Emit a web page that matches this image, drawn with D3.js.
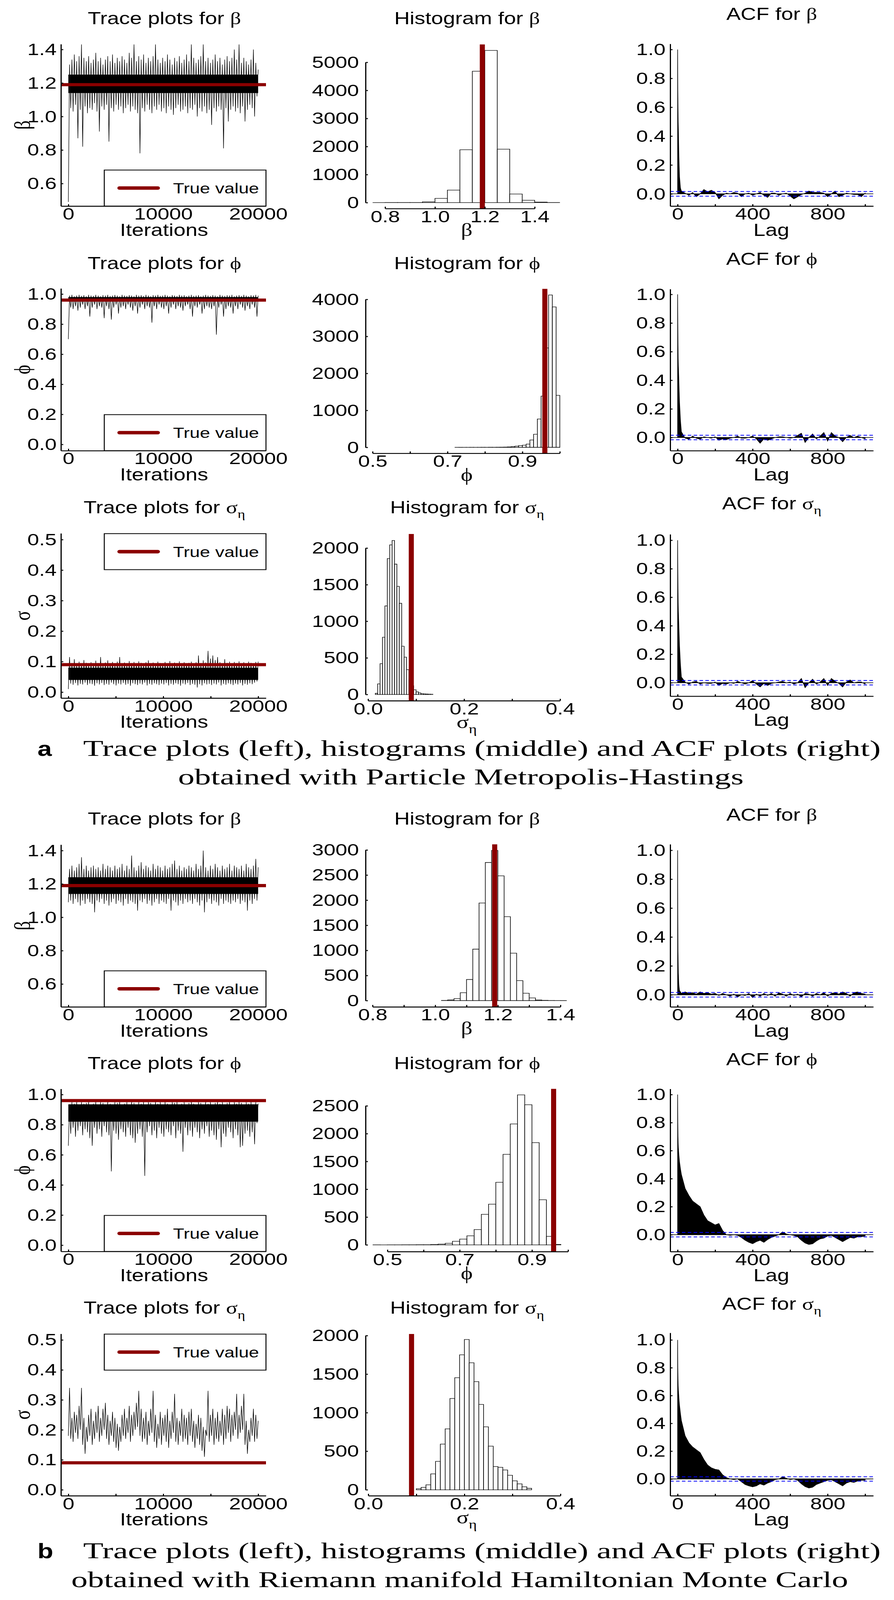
<!DOCTYPE html>
<html>
<head>
<meta charset="utf-8">
<script src="https://cdn.jsdelivr.net/npm/d3@7"></script>
<style>html,body{margin:0;background:#fff;overflow:hidden}</style>
</head>
<body>
<script>
// ---------- data ----------
// trace plots: low / high excursion of the chain in each 250-iteration block
const traceBetaA_lo=[0.49,1.05,1.03,1.07,0.87,1.04,0.82,1.06,1.02,1.05, 1.04,1.08,1.03,0.91,1.06,1.04,1.07,0.85,1.05,1.03,
 1.07,1.04,1.06,1.02,1.05,1.07,1.03,1.06,1.04,1.02, 0.78,1.05,1.03,1.07,1.04,1.02,1.06,1.04,1.07,1.03,
 1.05,1.02,1.06,1.04,1.01,1.05,1.07,1.03,1.04,1.06, 1.02,1.05,1.04,1.07,1.00,1.05,1.03,1.06,1.02,1.04,
 0.95,1.05,1.03,1.06,1.04,0.81,1.05,0.97,1.04,1.06, 1.03,1.05,1.02,1.06,0.97,1.04,1.07,1.05,1.00,1.12];
const traceBetaA_hi=[1.31,1.34,1.37,1.33,1.36,1.43,1.35,1.33,1.36,1.32, 1.34,1.38,1.33,1.35,1.31,1.34,1.36,1.33,1.37,1.32,
 1.35,1.33,1.36,1.34,1.32,1.38,1.35,1.43,1.33,1.36, 1.34,1.37,1.32,1.35,1.33,1.36,1.43,1.34,1.32,1.35,
 1.33,1.37,1.34,1.31,1.35,1.33,1.36,1.32,1.34,1.37, 1.33,1.43,1.35,1.32,1.34,1.36,1.43,1.33,1.35,1.32,
 1.34,1.37,1.33,1.35,1.31,1.34,1.36,1.33,1.35,1.40, 1.34,1.43,1.32,1.35,1.33,1.31,1.34,1.40,1.32,1.28];
const traceBetaA_core=[1.14,1.25];

const tracePhiA_lo=[0.70,0.91,0.90,0.92,0.89,0.91,0.93,0.90,0.92,0.85, 0.91,0.93,0.90,0.92,0.91,0.84,0.92,0.90,0.83,0.91,
 0.93,0.87,0.91,0.92,0.90,0.93,0.91,0.89,0.92,0.87, 0.91,0.93,0.90,0.92,0.91,0.81,0.92,0.90,0.93,0.91,
 0.90,0.92,0.87,0.91,0.93,0.90,0.92,0.91,0.89,0.92, 0.93,0.90,0.85,0.92,0.91,0.93,0.87,0.90,0.92,0.91,
 0.90,0.92,0.73,0.91,0.93,0.85,0.90,0.92,0.91,0.87, 0.92,0.90,0.93,0.91,0.89,0.92,0.90,0.93,0.91,0.85];
const tracePhiA_hi=[0.99,0.995,0.985,0.99,0.995,0.988,0.992,0.985,0.995,0.99, 0.988,0.995,0.99,0.985,0.993,0.99,0.995,0.987,0.99,0.994,
 0.99,0.985,0.995,0.99,0.988,0.993,0.99,0.985,0.995,0.99, 0.992,0.987,0.995,0.99,0.985,0.993,0.99,0.995,0.988,0.99,
 0.995,0.99,0.985,0.993,0.99,0.987,0.995,0.99,0.992,0.985, 0.99,0.995,0.988,0.99,0.993,0.985,0.99,0.995,0.99,0.987,
 0.993,0.99,0.985,0.995,0.99,0.988,0.992,0.99,0.995,0.985, 0.99,0.993,0.987,0.995,0.99,0.985,0.992,0.99,0.995,0.99];
const tracePhiA_core=[0.95,0.98];

const traceSigA_lo=[0.010,0.028,0.024,0.030,0.022,0.027,0.025,0.031,0.023,0.028, 0.026,0.021,0.029,0.025,0.030,0.023,0.027,0.024,0.031,0.026,
 0.022,0.028,0.025,0.030,0.024,0.027,0.021,0.029,0.026,0.023, 0.028,0.025,0.031,0.022,0.027,0.024,0.029,0.026,0.023,0.028,
 0.025,0.030,0.022,0.027,0.024,0.029,0.026,0.021,0.028,0.025, 0.030,0.023,0.027,0.024,0.015,0.026,0.022,0.029,0.025,0.027,
 0.023,0.028,0.025,0.031,0.022,0.027,0.024,0.029,0.026,0.023, 0.028,0.025,0.030,0.022,0.027,0.024,0.029,0.026,0.031,0.035];
const traceSigA_hi=[0.115,0.095,0.108,0.092,0.100,0.094,0.105,0.096,0.090,0.098, 0.093,0.103,0.095,0.115,0.091,0.097,0.104,0.094,0.099,0.092,
 0.100,0.115,0.094,0.097,0.092,0.102,0.095,0.099,0.093,0.101, 0.096,0.092,0.098,0.104,0.094,0.097,0.091,0.100,0.095,0.093,
 0.099,0.094,0.102,0.092,0.097,0.095,0.101,0.093,0.098,0.094, 0.096,0.100,0.093,0.098,0.120,0.095,0.104,0.097,0.135,0.110,
 0.120,0.105,0.115,0.098,0.094,0.108,0.096,0.100,0.093,0.099, 0.095,0.101,0.094,0.098,0.092,0.100,0.096,0.094,0.099,0.100];
const traceSigA_core=[0.04,0.08];

const traceBetaB_lo=[1.09,1.10,1.08,1.11,1.09,1.07,1.10,1.08,1.11,1.09, 1.08,1.03,1.10,1.09,1.11,1.08,1.10,1.07,1.09,1.11,
 1.08,1.10,1.09,1.07,1.11,1.08,1.10,1.09,1.08,1.04, 1.10,1.09,1.11,1.08,1.10,1.07,1.09,1.11,1.08,1.10,
 1.09,1.08,1.11,1.04,1.10,1.09,1.07,1.10,1.08,1.11, 1.09,1.10,1.08,1.11,1.09,1.07,1.10,1.03,1.09,1.11,
 1.08,1.10,1.09,1.07,1.11,1.08,1.10,1.09,1.08,1.10, 1.09,1.11,1.08,1.10,1.09,1.04,1.10,1.08,1.11,1.10];
const traceBetaB_hi=[1.29,1.31,1.28,1.30,1.32,1.36,1.29,1.31,1.28,1.30, 1.31,1.29,1.30,1.28,1.32,1.29,1.31,1.30,1.28,1.31,
 1.29,1.30,1.32,1.28,1.31,1.29,1.37,1.30,1.28,1.31, 1.33,1.29,1.31,1.30,1.28,1.32,1.29,1.31,1.30,1.28,
 1.31,1.29,1.30,1.32,1.34,1.29,1.31,1.28,1.30,1.29, 1.31,1.30,1.28,1.32,1.29,1.31,1.40,1.30,1.28,1.31,
 1.29,1.32,1.30,1.28,1.31,1.29,1.30,1.32,1.28,1.31, 1.30,1.29,1.31,1.28,1.32,1.30,1.29,1.31,1.35,1.30];
const traceBetaB_core=[1.14,1.24];

const tracePhiB_lo=[0.66,0.74,0.78,0.72,0.76,0.79,0.73,0.77,0.75,0.71, 0.66,0.78,0.74,0.77,0.72,0.79,0.75,0.73,0.49,0.76,
 0.74,0.70,0.77,0.75,0.72,0.78,0.73,0.71,0.68,0.74, 0.77,0.72,0.46,0.75,0.79,0.73,0.76,0.71,0.78,0.74,
 0.72,0.77,0.75,0.73,0.79,0.71,0.76,0.74,0.62,0.78, 0.73,0.76,0.72,0.78,0.75,0.71,0.77,0.74,0.79,0.72,
 0.76,0.73,0.70,0.77,0.65,0.74,0.72,0.78,0.75,0.71, 0.77,0.73,0.65,0.66,0.74,0.76,0.72,0.75,0.67,0.81];
const tracePhiB_hi=[0.93,0.95,0.94,0.955,0.93,0.95,0.94,0.945,0.955,0.93, 0.94,0.955,0.93,0.95,0.945,0.935,0.955,0.94,0.93,0.95,
 0.945,0.955,0.93,0.94,0.95,0.935,0.955,0.945,0.93,0.95, 0.94,0.955,0.935,0.95,0.945,0.93,0.955,0.94,0.95,0.935,
 0.955,0.94,0.93,0.95,0.945,0.955,0.935,0.94,0.95,0.93, 0.945,0.955,0.94,0.93,0.95,0.945,0.935,0.955,0.94,0.95,
 0.93,0.945,0.955,0.94,0.95,0.935,0.945,0.955,0.93,0.95, 0.94,0.955,0.945,0.93,0.95,0.94,0.955,0.935,0.95,0.94];
const tracePhiB_core=[0.82,0.935];

const traceSigB_lo=[0.18,0.17,0.16,0.19,0.17,0.20,0.15,0.12,0.16,0.18, 0.15,0.17,0.19,0.16,0.18,0.20,0.17,0.15,0.18,0.16,
 0.14,0.13,0.16,0.18,0.17,0.19,0.16,0.18,0.20,0.21, 0.18,0.16,0.17,0.15,0.18,0.19,0.16,0.14,0.17,0.15,
 0.18,0.16,0.14,0.17,0.19,0.16,0.15,0.18,0.16,0.17, 0.15,0.18,0.16,0.14,0.17,0.15,0.13,0.11,0.18,0.16,
 0.18,0.15,0.17,0.16,0.18,0.15,0.17,0.19,0.16,0.18, 0.20,0.17,0.19,0.20,0.15,0.12,0.16,0.18,0.16,0.17];
const traceSigB_hi=[0.34,0.24,0.26,0.25,0.28,0.34,0.24,0.21,0.25,0.27, 0.23,0.26,0.28,0.24,0.27,0.29,0.25,0.23,0.26,0.24,
 0.22,0.21,0.25,0.27,0.24,0.28,0.25,0.26,0.29,0.33, 0.27,0.24,0.26,0.23,0.27,0.33,0.25,0.22,0.26,0.24,
 0.25,0.27,0.23,0.26,0.32,0.24,0.23,0.27,0.25,0.24, 0.26,0.27,0.23,0.22,0.25,0.24,0.21,0.20,0.33,0.25,
 0.27,0.24,0.26,0.23,0.27,0.25,0.28,0.27,0.25,0.26, 0.32,0.25,0.28,0.32,0.23,0.20,0.24,0.27,0.25,0.23];
const traceSigB_core=null;

const trueBeta=1.19, truePhi=0.96, trueSig=0.09;

// histograms: first break, bin width, counts
const histBetaA_start=0.75, histBetaA_step=0.05;
const histBetaA=[0,3,3,3,30,150,446,1884,4682,5424,1906,307,84,20,3];
const histPhiA_start=0.72, histPhiA_step=0.01;
const histPhiA=[1,0,1,1,2,1,2,3,2,4,3,5,6,8,12,20,34,50,59,89,200,356,766,1384,2688,4119,3797,1405];
const histSigA_start=0.015, histSigA_step=0.005;
const histSigA=[15,145,421,781,1209,1857,2043,2103,1780,1476,1245,659,509,338,210,120,64,36,21,10,8,6,4,3];
const histBetaB_start=1.02, histBetaB_step=0.02;
const histBetaB=[3,15,40,156,420,1025,1944,2750,2990,2484,1672,944,397,147,53,12,5,2,1,0];
const histPhiB_start=0.46, histPhiB_step=0.02;
const histPhiB=[1,0,1,1,2,2,3,3,6,14,28,65,104,163,276,549,732,1126,1627,2173,2697,2519,1838,811,152,8];
const histSigB_start=0.10, histSigB_step=0.01;
const histSigB=[13,31,64,206,368,592,790,1184,1454,1750,1949,1647,1403,1107,816,566,301,291,257,188,116,77,39,18];

// autocorrelation functions
const acfLags=[0,1,2,3,4,6,8,10,15,20,40,60,80,100,120,140,160,180,200,220,240,260,280,300,320,340,360,380,400,
 420,440,460,480,500,520,540,560,580,600,620,640,660,680,700,720,740,760,780,800,820,840,860,880,900,920,940,960,980,1000];
const acfBetaA=[1.0,0.72,0.6,0.5,0.45,0.3,0.2,0.12,0.04,0.02,
 0.005,-0.01,0.01,-0.02,0.0,0.03,0.015,0.025,0.01,-0.035,-0.01,0.005,0.0,0.01,0.005,-0.02,0.0,0.005,-0.01,0.0,
 0.01,-0.01,-0.025,0.005,0.005,-0.01,0.0,0.005,-0.015,-0.035,-0.02,-0.005,0.005,0.02,0.01,0.01,0.01,0.005,-0.02,0.0,
 0.02,-0.02,-0.01,0.005,0.0,-0.005,-0.005,-0.02,0.005];
const acfPhiA=[1.0,0.8,0.65,0.55,0.5,0.42,0.33,0.25,0.12,0.04,
 -0.005,-0.012,0.01,-0.005,-0.012,0.005,0.0,-0.005,0.005,-0.02,-0.01,-0.015,-0.005,0.0,0.01,-0.005,-0.005,0.0,0.01,-0.01,
 -0.04,-0.01,-0.02,-0.01,0.0,0.005,0.005,0.0,-0.005,0.0,0.015,0.03,-0.035,0.0,0.025,-0.01,0.01,0.035,-0.025,0.035,
 0.01,0.0,-0.03,0.0,0.015,0.0,0.01,0.0,-0.01];
const acfSigA=[1.0,0.8,0.66,0.56,0.5,0.42,0.34,0.26,0.13,0.04,
 0.005,-0.01,0.005,0.01,-0.01,0.0,-0.005,-0.005,0.005,-0.02,-0.005,-0.01,0.0,-0.005,0.01,0.0,-0.01,0.0,0.015,-0.01,
 -0.03,-0.005,-0.02,-0.005,0.0,0.005,0.01,0.0,0.005,-0.01,0.0,0.03,-0.035,0.0,0.025,-0.01,0.005,0.03,-0.02,0.03,
 0.01,-0.005,-0.03,0.005,0.02,0.0,0.005,0.005,-0.01];
const acfBetaB=[1.0,0.55,0.3,0.22,0.15,0.08,0.05,0.03,0.02,0.01,
 0.02,0.01,0.015,0.005,0.02,0.01,0.015,0.005,0.01,-0.005,0.01,0.0,-0.01,0.005,-0.015,0.0,-0.005,0.01,-0.02,0.005,
 -0.01,0.01,-0.005,0.01,-0.01,0.015,0.005,-0.01,0.01,-0.005,0.005,-0.015,0.01,0.005,-0.01,0.01,0.0,0.015,-0.01,0.01,
 0.015,0.005,0.02,0.01,-0.01,0.015,0.02,0.01,0.005];
const acfPhiB=[1.0,0.8,0.7,0.65,0.62,0.58,0.55,0.52,0.47,0.43,
 0.33,0.28,0.24,0.22,0.2,0.14,0.1,0.085,0.07,0.08,0.03,0.0,-0.005,0.0,-0.005,-0.02,-0.04,-0.055,-0.065,-0.05,
 -0.04,-0.055,-0.035,-0.02,-0.01,0.0,0.02,0.005,0.0,-0.005,-0.015,-0.04,-0.06,-0.07,-0.065,-0.045,-0.03,-0.025,-0.01,-0.005,
 -0.02,-0.035,-0.05,-0.035,-0.02,-0.025,-0.015,-0.015,-0.01];
const acfSigB=[1.0,0.8,0.72,0.67,0.64,0.6,0.56,0.53,0.47,0.42,
 0.31,0.26,0.23,0.21,0.19,0.14,0.1,0.08,0.07,0.065,0.03,0.01,0.0,-0.005,0.0,-0.02,-0.04,-0.05,-0.057,-0.05,
 -0.035,-0.045,-0.03,-0.02,-0.005,0.0,0.015,0.005,-0.005,0.0,-0.01,-0.035,-0.055,-0.065,-0.06,-0.04,-0.03,-0.02,-0.01,-0.005,
 -0.02,-0.035,-0.05,-0.03,-0.02,-0.025,-0.015,-0.01,-0.01];
const acfBand=0.016;

// ticks
const iterTicks=[0,5000,10000,15000,20000], iterLabels=[0,10000,20000];
const lagTicks=[0,200,400,600,800,1000], lagLabels=[0,400,800];
const acfTicks=[0,0.2,0.4,0.6,0.8,1.0];
const betaTicks=[0.6,0.8,1.0,1.2,1.4], phiTicks=[0,0.2,0.4,0.6,0.8,1.0], sigTicks=[0,0.1,0.2,0.3,0.4,0.5];

const captionHead="Trace plots (left), histograms (middle) and ACF plots (right)";
const captionA="obtained with Particle Metropolis-Hastings";
const captionB="obtained with Riemann manifold Hamiltonian Monte Carlo";

// ---------- drawing ----------
const SANS='"Liberation Sans", Arial, Helvetica, sans-serif';
const GREEK='"Liberation Serif", "DejaVu Serif", serif';
const SERIF='"Liberation Serif", "DejaVu Serif", serif';
const RED='#8b0000';
const W=2289, H=5109;

// the figure is laid out on a 2289x5109 canvas and stretched to whatever window we get
const svg=d3.select('body').append('svg')
  .attr('width',window.innerWidth||W).attr('height',window.innerHeight||H)
  .attr('viewBox',`0 0 ${W} ${H}`).attr('preserveAspectRatio','none')
  .style('display','block').style('background','#fff');

const only=list=>(fmt)=>d=>list.some(v=>Math.abs(v-d)<1e-9)?fmt(d):'';

function styleAxis(g){
  g.attr('font-family',SANS).attr('font-size',54);
  g.select('.domain').attr('stroke-width',3);
  g.selectAll('.tick line').attr('stroke-width',3);
}

function symText(g,x,y,prefix,sym,sub,size){
  const t=g.append('text').attr('x',x).attr('y',y).attr('text-anchor','middle')
    .attr('font-family',SANS).attr('font-size',size).attr('fill','#000');
  if(prefix) t.append('tspan').text(prefix);
  t.append('tspan').attr('font-family',GREEK).text(sym);
  if(sub) t.append('tspan').attr('font-family',GREEK).attr('font-size',size*0.68).attr('dy',size*0.28).text(sub);
  return t;
}

function drawTrace(R,p){
  const g=svg.append('g');
  const xr=[156,681];
  const x=d3.scaleLinear().domain([0,20000]).range([175,661]);
  x.domain([x.invert(xr[0]),x.invert(xr[1])]).range(xr);
  const yb=R+p.box[1], yt=R+p.box[0];
  const y=d3.scaleLinear().domain([p.yRef[0],p.yRef[2]]).range([R+p.yRef[1],R+p.yRef[3]]);
  y.domain([y.invert(yb),y.invert(yt)]).range([yb,yt]);

  if(p.core) g.append('rect').attr('x',x(0)).attr('width',x(20000)-x(0))
    .attr('y',y(p.core[1])).attr('height',y(p.core[0])-y(p.core[1])).attr('fill','#000');
  const vals=[]; p.lo.forEach((v,i)=>vals.push(v,p.hi[i]));
  const n=vals.length;
  g.append('path').datum(vals).attr('fill','none').attr('stroke','#000').attr('stroke-width',1.3)
    .attr('d',d3.line().x((d,i)=>x(i*20000/(n-1))).y(d=>y(d)));
  g.append('line').attr('x1',xr[0]).attr('x2',xr[1]).attr('y1',y(p.truth)).attr('y2',y(p.truth))
    .attr('stroke',RED).attr('stroke-width',10);

  styleAxis(g.append('g').attr('transform',`translate(${xr[0]},0)`)
    .call(d3.axisLeft(y).tickValues(p.yTicks).tickSizeInner(-6).tickSizeOuter(0).tickPadding(11)
      .tickFormat(d3.format('.1f'))));
  styleAxis(g.append('g').attr('transform',`translate(0,${yb})`)
    .call(d3.axisBottom(x).tickValues(iterTicks).tickSizeInner(-6).tickSizeOuter(0).tickPadding(5)
      .tickFormat(only(iterLabels)(d3.format('d')))));

  // legend
  const lx0=267, lx1=681, lh=115;
  const ly0=p.legend==='top'?yt+1:yb-lh;
  g.append('rect').attr('x',lx0).attr('y',ly0).attr('width',lx1-lx0).attr('height',lh)
    .attr('fill','#fff').attr('stroke','#000').attr('stroke-width',2.5);
  const lc=ly0+lh/2;
  g.append('line').attr('x1',306).attr('x2',404).attr('y1',lc).attr('y2',lc)
    .attr('stroke',RED).attr('stroke-width',11).attr('stroke-linecap','round');
  g.append('text').attr('x',443).attr('y',lc+17).attr('font-family',SANS).attr('font-size',47).text('True value');

  symText(g,421,R+77,'Trace plots for ',p.sym,p.sub,55);
  g.append('text').attr('x',420).attr('y',yb+95).attr('text-anchor','middle')
    .attr('font-family',SANS).attr('font-size',55).text('Iterations');
  g.append('text').attr('transform',`translate(76,${R+(p.box[0]+p.box[1])/2}) rotate(-90)`)
    .attr('text-anchor','middle').attr('font-family',GREEK).attr('font-size',58).text(p.ylab);
}

function drawHist(R,p){
  const g=svg.append('g');
  const yb=R+p.box[1], yt=R+p.box[0];
  const x=d3.scaleLinear().domain([p.xRef[0],p.xRef[2]]).range([p.xRef[1],p.xRef[3]]);
  const y=d3.scaleLinear().domain([0,p.yRef[1]]).range([R+p.yRef[0],R+p.yRef[2]]);

  g.selectAll('path.bar').data(p.counts).join('path').attr('class','bar')
    .attr('d',(c,i)=>{
      const a=x(p.start+i*p.step), b=x(p.start+(i+1)*p.step);
      return `M${a},${y(0)}V${y(c)}H${b}V${y(0)}Z`;
    })
    .attr('fill','#fff').attr('stroke','#000').attr('stroke-width',1.6);
  g.append('line').attr('x1',x(p.truth)).attr('x2',x(p.truth)).attr('y1',yt).attr('y2',yb)
    .attr('stroke',RED).attr('stroke-width',13);

  const yTop=p.yTicks[p.yTicks.length-1];
  const ya=y.copy().domain([0,yTop]).range([y(0),y(yTop)]);
  styleAxis(g.append('g').attr('transform','translate(936,0)')
    .call(d3.axisLeft(ya).tickValues(p.yTicks).tickSizeInner(-6).tickSizeOuter(0).tickPadding(17)
      .tickFormat(d3.format('d'))));
  const x0=p.xTicks[0], x1=p.xTicks[p.xTicks.length-1];
  const xa=x.copy().domain([x0,x1]).range([x(x0),x(x1)]);
  styleAxis(g.append('g').attr('transform',`translate(0,${yb})`)
    .call(d3.axisBottom(xa).tickValues(p.xTicks).tickSizeInner(-6).tickSizeOuter(0).tickPadding(5)
      .tickFormat(only(p.xLabels)(d3.format('.1f')))));

  symText(g,1196,R+77,'Histogram for ',p.sym,p.sub,55);
  symText(g,1195,yb+88,'',p.sym,p.sub,58);
}

function drawAcf(R,p){
  const g=svg.append('g');
  const yb=R+p.box[1], yt=R+p.box[0];
  const xr=[1716,2236];
  const x=d3.scaleLinear().domain([0,800]).range([1735,2119]);
  x.domain([x.invert(xr[0]),x.invert(xr[1])]).range(xr);
  const y=d3.scaleLinear().domain([0,1]).range([R+p.yRef[0],R+p.yRef[1]]);
  y.domain([y.invert(yb),y.invert(yt)]).range([yb,yt]);

  g.append('path').datum(p.acf).attr('fill','#000').attr('stroke','#000').attr('stroke-width',1.5)
    .attr('d',d3.area().x((d,i)=>x(acfLags[i])).y0(y(0)).y1(d=>y(d)));
  g.append('line').attr('x1',xr[0]).attr('x2',xr[1]).attr('y1',y(0)).attr('y2',y(0))
    .attr('stroke','#000').attr('stroke-width',2);
  [acfBand,-acfBand].forEach(v=>g.append('line').attr('x1',xr[0]).attr('x2',xr[1])
    .attr('y1',y(v)).attr('y2',y(v)).attr('stroke','#0000ff').attr('stroke-width',2.5)
    .attr('stroke-dasharray','9,6'));

  styleAxis(g.append('g').attr('transform',`translate(${xr[0]},0)`)
    .call(d3.axisLeft(y).tickValues(acfTicks).tickSizeInner(-6).tickSizeOuter(0).tickPadding(12)
      .tickFormat(d3.format('.1f'))));
  styleAxis(g.append('g').attr('transform',`translate(0,${yb})`)
    .call(d3.axisBottom(x).tickValues(lagTicks).tickSizeInner(-6).tickSizeOuter(0).tickPadding(5)
      .tickFormat(only(lagLabels)(d3.format('d')))));

  symText(g,1976,R+64,'ACF for ',p.sym,p.sub,55);
  g.append('text').attr('x',1975).attr('y',yb+95).attr('text-anchor','middle')
    .attr('font-family',SANS).attr('font-size',55).text('Lag');
}

// ---------- layout of the two parts ----------
const rowsA=[0,782,1562], rowsB=[2556,3337,4118];
const B='\u03B2', P='\u03D5', S='\u03C3', E='\u03B7';

// part a
drawTrace(rowsA[0],{yRef:[1.4,158,0.6,586],box:[141,658],yTicks:betaTicks,lo:traceBetaA_lo,hi:traceBetaA_hi,
  core:traceBetaA_core,truth:trueBeta,legend:'bottom',sym:B,ylab:B});
drawTrace(rowsA[1],{yRef:[1.0,157,0.0,637],box:[139,657],yTicks:phiTicks,lo:tracePhiA_lo,hi:tracePhiA_hi,
  core:tracePhiA_core,truth:truePhi,legend:'bottom',sym:P,ylab:P});
drawTrace(rowsA[2],{yRef:[0.5,161,0.0,648],box:[141,667],yTicks:sigTicks,lo:traceSigA_lo,hi:traceSigA_hi,
  core:traceSigA_core,truth:trueSig,legend:'top',sym:S,sub:E,ylab:S});

drawHist(rowsA[0],{xRef:[0.8,986,1.4,1369],yRef:[647,5000,199],box:[142,666],start:histBetaA_start,step:histBetaA_step,
  counts:histBetaA,truth:trueBeta,xTicks:[0.8,1.0,1.2,1.4],xLabels:[0.8,1.0,1.2,1.4],yTicks:[0,1000,2000,3000,4000,5000],sym:B});
drawHist(rowsA[1],{xRef:[0.5,954,0.9,1337.5],yRef:[646.5,4000,174],box:[140.5,665.5],start:histPhiA_start,step:histPhiA_step,
  counts:histPhiA,truth:truePhi,xTicks:[0.5,0.6,0.7,0.8,0.9,1.0],xLabels:[0.5,0.7,0.9],yTicks:[0,1000,2000,3000,4000],sym:P});
drawHist(rowsA[2],{xRef:[0,942.5,0.4,1434],yRef:[655.5,2000,188],box:[143,675.5],start:histSigA_start,step:histSigA_step,
  counts:histSigA,truth:trueSig,xTicks:[0,0.1,0.2,0.3,0.4],xLabels:[0,0.2,0.4],yTicks:[0,500,1000,1500,2000],sym:S,sub:E});

drawAcf(rowsA[0],{yRef:[619,158],box:[140,658],acf:acfBetaA,sym:B});
drawAcf(rowsA[1],{yRef:[615,158],box:[141,657],acf:acfPhiA,sym:P});
drawAcf(rowsA[2],{yRef:[618,163],box:[144,661],acf:acfSigA,sym:S,sub:E});

// part b
drawTrace(rowsB[0],{yRef:[1.4,160,0.6,586],box:[141,659],yTicks:betaTicks,lo:traceBetaB_lo,hi:traceBetaB_hi,
  core:traceBetaB_core,truth:trueBeta,legend:'bottom',sym:B,ylab:B});
drawTrace(rowsB[1],{yRef:[1.0,158,0.0,639],box:[140,659],yTicks:phiTicks,lo:tracePhiB_lo,hi:tracePhiB_hi,
  core:tracePhiB_core,truth:truePhi,legend:'bottom',sym:P,ylab:P});
drawTrace(rowsB[2],{yRef:[0.5,160.5,0.0,639],box:[141,658],yTicks:sigTicks,lo:traceSigB_lo,hi:traceSigB_hi,
  core:traceSigB_core,truth:trueSig,legend:'top',sym:S,sub:E,ylab:S});

drawHist(rowsB[0],{xRef:[0.8,954,1.4,1435],yRef:[639,3000,158],box:[140,659],start:histBetaB_start,step:histBetaB_step,
  counts:histBetaB,truth:trueBeta,xTicks:[0.8,0.9,1.0,1.1,1.2,1.3,1.4],xLabels:[0.8,1.0,1.2,1.4],yTicks:[0,500,1000,1500,2000,2500,3000],sym:B});
drawHist(rowsB[1],{xRef:[0.5,992,0.9,1362],yRef:[638,2500,194],box:[140,659.5],start:histPhiB_start,step:histPhiB_step,
  counts:histPhiB,truth:truePhi,xTicks:[0.5,0.6,0.7,0.8,0.9,1.0],xLabels:[0.5,0.7,0.9],yTicks:[0,500,1000,1500,2000,2500],sym:P});
drawHist(rowsB[2],{xRef:[0,943,0.4,1435],yRef:[639,2000,146.6],box:[141.5,658],start:histSigB_start,step:histSigB_step,
  counts:histSigB,truth:trueSig,xTicks:[0,0.1,0.2,0.3,0.4],xLabels:[0,0.2,0.4],yTicks:[0,500,1000,1500,2000],sym:S,sub:E});

drawAcf(rowsB[0],{yRef:[620.5,159],box:[140,659],acf:acfBetaB,sym:B});
drawAcf(rowsB[1],{yRef:[605.5,158],box:[140,659.5],acf:acfPhiB,sym:P});
drawAcf(rowsB[2],{yRef:[604.5,160.5],box:[138,658],acf:acfSigB,sym:S,sub:E});

// captions
function caption(tag,y1,line2,cx2,w2){
  svg.append('text').attr('x',96).attr('y',y1).attr('font-family',SANS).attr('font-weight','bold')
    .attr('font-size',66).text(tag);
  svg.append('text').attr('x',213).attr('y',y1).attr('font-family',SERIF).attr('font-size',72)
    .attr('textLength',2042).attr('lengthAdjust','spacingAndGlyphs').text(captionHead);
  svg.append('text').attr('x',cx2-w2/2).attr('y',y1+92).attr('font-family',SERIF).attr('font-size',72)
    .attr('textLength',w2).attr('lengthAdjust','spacingAndGlyphs').text(line2);
}
caption('a',2413,captionA,1180,1448);
caption('b',4976,captionB,1177,1989);
</script>
</body>
</html>
